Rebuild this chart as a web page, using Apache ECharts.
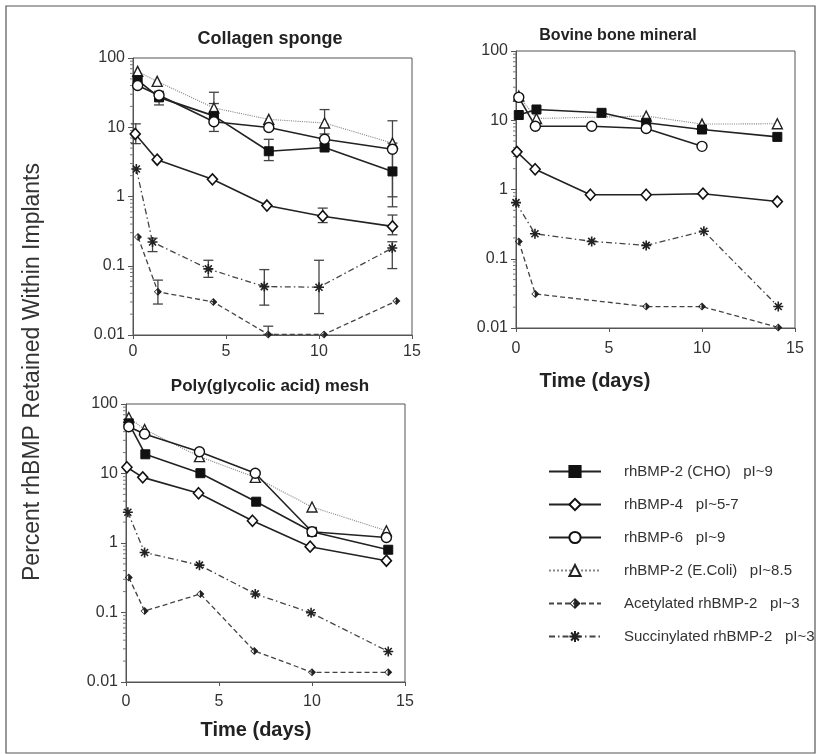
<!DOCTYPE html>
<html>
<head>
<meta charset="utf-8">
<title>rhBMP retention</title>
<script src="https://cdn.jsdelivr.net/npm/echarts@6/dist/echarts.min.js"></script>
<style>
  html, body { margin: 0; padding: 0; background: #fff; }
  #chart { width: 821px; height: 754px; }
</style>
</head>
<body>
<div id="chart"></div>
<script>
// series names (legend)
var names = [
  "rhBMP-2 (CHO)   pI~9",
  "rhBMP-4   pI~5-7",
  "rhBMP-6   pI~9",
  "rhBMP-2 (E.Coli)   pI~8.5",
  "Acetylated rhBMP-2   pI~3",
  "Succinylated rhBMP-2   pI~3"
];
var panelTitles = ["Collagen sponge", "Bovine bone mineral", "Poly(glycolic acid) mesh"];
var yTicks = [0.01, 0.1, 1, 10, 100];
var xTicks = [0, 5, 10, 15];

// Collagen sponge
var csChoX = [0.25, 1.4, 4.35, 7.3, 10.3, 13.95];
var csChoY = [48, 27, 14.6, 4.5, 5.1, 2.3];
var csBmp4X = [0.12, 1.3, 4.27, 7.2, 10.2, 13.95];
var csBmp4Y = [8.0, 3.4, 1.77, 0.74, 0.52, 0.37];
var csBmp6X = [0.25, 1.4, 4.35, 7.3, 10.3, 13.95];
var csBmp6Y = [40, 29, 12, 9.9, 6.7, 4.8];
var csEcoliX = [0.25, 1.3, 4.35, 7.3, 10.3, 13.95];
var csEcoliY = [64, 46, 19, 13, 11.5, 5.9];
var csAcetX = [0.27, 1.34, 4.32, 7.27, 10.27, 14.16];
var csAcetY = [0.26, 0.042, 0.030, 0.0102, 0.0102, 0.031];
var csSuccX = [0.18, 1.05, 4.05, 7.06, 10.0, 13.94];
var csSuccY = [2.5, 0.22, 0.09, 0.05, 0.049, 0.18];
// error bars: day, low, high
var csErrX = [0.15, 1.4, 4.35, 4.35, 7.3, 10.3, 10.2, 13.95, 13.95, 13.95, 1.05, 4.05, 7.06, 10.0, 13.94, 1.34, 7.27];
var csErrLo = [5.8, 21, 14, 8.7, 3.3, 8, 0.42, 0.99, 0.71, 0.28, 0.16, 0.068, 0.027, 0.0204, 0.091, 0.028, 0.0102];
var csErrHi = [11.2, 33, 32, 22, 6.7, 18, 0.68, 12.4, 5.9, 0.54, 0.25, 0.12, 0.088, 0.12, 0.222, 0.062, 0.0134];

// Bovine bone mineral
var bbChoX = [0.15, 1.1, 4.6, 7.0, 10.0, 14.05];
var bbChoY = [11.9, 14.3, 12.8, 9.2, 7.35, 5.75];
var bbBmp4X = [0.05, 1.03, 4.0, 7.0, 10.05, 14.05];
var bbBmp4Y = [3.5, 1.96, 0.84, 0.84, 0.87, 0.67];
var bbBmp6X = [0.15, 1.04, 4.07, 7.0, 10.0];
var bbBmp6Y = [21.4, 8.2, 8.2, 7.6, 4.2];
var bbEcoliX = [0.15, 1.1, 7.0, 10.0, 14.05];
var bbEcoliY = [22.3, 10.6, 11.5, 8.8, 8.9];
var bbAcetX = [0.15, 1.04, 7.0, 10.0, 14.1];
var bbAcetY = [0.178, 0.031, 0.0204, 0.0204, 0.0102];
var bbSuccX = [0.0, 1.02, 4.07, 7.0, 10.1, 14.1];
var bbSuccY = [0.646, 0.23, 0.178, 0.156, 0.25, 0.0204];

// Poly(glycolic acid) mesh
var pgChoX = [0.15, 1.04, 4.0, 7.0, 10.0, 14.1];
var pgChoY = [52.7, 18.9, 10.1, 3.93, 1.45, 0.8];
var pgBmp4X = [0.05, 0.9, 3.9, 6.8, 9.9, 14.0];
var pgBmp4Y = [12.3, 8.8, 5.2, 2.09, 0.885, 0.556];
var pgBmp6X = [0.15, 1.0, 3.95, 6.95, 10.0, 14.0];
var pgBmp6Y = [47, 37, 20.6, 10.1, 1.45, 1.2];
var pgEcoliX = [0.15, 1.0, 3.95, 6.95, 10.0, 14.0];
var pgEcoliY = [64, 43, 17.5, 8.8, 3.3, 1.5];
var pgAcetX = [0.15, 1.0, 4.0, 6.9, 10.0, 14.1];
var pgAcetY = [0.32, 0.105, 0.185, 0.028, 0.0138, 0.0138];
var pgSuccX = [0.1, 1.0, 3.95, 6.95, 9.95, 14.1];
var pgSuccY = [2.77, 0.73, 0.48, 0.185, 0.099, 0.0275];

// minor ticks of the log axes
var minorVals = [0.02, 0.03, 0.04, 0.05, 0.06, 0.07, 0.08, 0.09,
  0.2, 0.3, 0.4, 0.5, 0.6, 0.7, 0.8, 0.9,
  2, 3, 4, 5, 6, 7, 8, 9,
  20, 30, 40, 50, 60, 70, 80, 90];

function zip(xs, ys) {
  return xs.map(function (x, i) { return [x, ys[i]]; });
}

var halfDiamond = "path://M10 0L20 10L10 20ZM10 0L10 20L0 10ZM8.5 4L2.5 10L8.5 16Z";
var asterisk = "path://M0 10L20 10M10 0L10 20M3 3L17 17M17 3L3 17";

// style per series (same order as names)
var styles = [
  { symbol: "rect", size: 9, item: { color: "#111", borderColor: "#111", borderWidth: 1 }, line: { color: "#222", width: 1.6, type: "solid" } },
  { symbol: "diamond", size: [10, 11], item: { color: "#fff", borderColor: "#111", borderWidth: 1.6 }, line: { color: "#222", width: 1.6, type: "solid" } },
  { symbol: "circle", size: 10, item: { color: "#fff", borderColor: "#111", borderWidth: 1.4 }, line: { color: "#222", width: 1.6, type: "solid" } },
  { symbol: "triangle", size: 10, item: { color: "#fff", borderColor: "#222", borderWidth: 1.4 }, line: { color: "#888", width: 1.1, type: "dotted" } },
  { symbol: halfDiamond, size: 8, item: { color: "#222", borderWidth: 0 }, line: { color: "#444", width: 1.3, type: [5, 3] } },
  { symbol: asterisk, size: 10, item: { color: "rgba(0,0,0,0)", borderColor: "#222", borderWidth: 1.6 }, line: { color: "#444", width: 1.3, type: [6, 3, 1.5, 3] } }
];

var panels = [
  [zip(csChoX, csChoY), zip(csBmp4X, csBmp4Y), zip(csBmp6X, csBmp6Y), zip(csEcoliX, csEcoliY), zip(csAcetX, csAcetY), zip(csSuccX, csSuccY)],
  [zip(bbChoX, bbChoY), zip(bbBmp4X, bbBmp4Y), zip(bbBmp6X, bbBmp6Y), zip(bbEcoliX, bbEcoliY), zip(bbAcetX, bbAcetY), zip(bbSuccX, bbSuccY)],
  [zip(pgChoX, pgChoY), zip(pgBmp4X, pgBmp4Y), zip(pgBmp6X, pgBmp6Y), zip(pgEcoliX, pgEcoliY), zip(pgAcetX, pgAcetY), zip(pgSuccX, pgSuccY)]
];

var grids = [
  { left: 133, top: 58, width: 279, height: 277 },
  { left: 516, top: 51, width: 279, height: 277 },
  { left: 126, top: 404, width: 279, height: 278 }
];
var xLabelMargin = [9, 13, 12];

var fontFamily = "Arial, 'Liberation Sans', sans-serif";
var labelFont = { fontFamily: fontFamily, fontSize: 16, color: "#333" };

var xAxes = [], yAxes = [], series = [];
grids.forEach(function (g, gi) {
  xAxes.push({
    type: "value", gridIndex: gi, min: 0, max: 15, interval: 5,
    axisLine: { show: true, lineStyle: { color: "#555", width: 1 } },
    axisTick: { show: true, length: 4, lineStyle: { color: "#555" } },
    axisLabel: Object.assign({ margin: xLabelMargin[gi] }, labelFont),
    splitLine: { show: false }
  });
  yAxes.push({
    type: "log", logBase: 10, gridIndex: gi, min: yTicks[0], max: yTicks[yTicks.length - 1],
    axisLine: { show: true, lineStyle: { color: "#555", width: 1 } },
    axisTick: { show: true, length: 5, lineStyle: { color: "#555" } },
    axisLabel: Object.assign({ margin: 8, formatter: function (v) { return String(v); } }, labelFont),
    splitLine: { show: false }
  });
  // minor ticks
  series.push({
    type: "custom", xAxisIndex: gi, yAxisIndex: gi, silent: true, clip: false, z: 1,
    data: minorVals.map(function (v) { return [0, v]; }),
    renderItem: function (params, api) {
      var p = api.coord([api.value(0), api.value(1)]);
      return { type: "line", shape: { x1: p[0] - 3, y1: p[1], x2: p[0], y2: p[1] }, style: { stroke: "#777", lineWidth: 1 } };
    }
  });
  panels[gi].forEach(function (d, si) {
    var st = styles[si];
    series.push({
      name: names[si], type: "line", xAxisIndex: gi, yAxisIndex: gi,
      data: d, symbol: st.symbol, symbolSize: st.size, showSymbol: true,
      itemStyle: st.item, lineStyle: st.line, z: 3 + (si === 3 ? 0 : 1),
      silent: true
    });
  });
});

// error bars on the collagen sponge panel
series.push({
  type: "custom", xAxisIndex: 0, yAxisIndex: 0, silent: true, z: 2,
  data: csErrX.map(function (x, i) { return [x, csErrLo[i], csErrHi[i]]; }),
  renderItem: function (params, api) {
    var lo = api.coord([api.value(0), api.value(1)]);
    var hi = api.coord([api.value(0), api.value(2)]);
    var s = { stroke: "#444", lineWidth: 1.3 };
    return {
      type: "group",
      children: [
        { type: "line", shape: { x1: hi[0], y1: hi[1], x2: lo[0], y2: lo[1] }, style: s },
        { type: "line", shape: { x1: hi[0] - 5, y1: hi[1], x2: hi[0] + 5, y2: hi[1] }, style: s },
        { type: "line", shape: { x1: lo[0] - 5, y1: lo[1], x2: lo[0] + 5, y2: lo[1] }, style: s }
      ]
    };
  }
});

function label(text, x, y, font) {
  return { type: "text", x: x, y: y, silent: true, style: { text: text, font: font, fill: "#222", align: "center", verticalAlign: "middle" } };
}

var chart = echarts.init(document.getElementById("chart"));
chart.setOption({
  animation: false,
  backgroundColor: "#fff",
  grid: grids.map(function (g) {
    return Object.assign({ show: true, borderColor: "#555", borderWidth: 1, backgroundColor: "transparent", containLabel: false }, g);
  }),
  xAxis: xAxes,
  yAxis: yAxes,
  legend: {
    data: names, orient: "vertical", left: 543, top: 459,
    itemWidth: 52, itemHeight: 14, itemGap: 18,
    textStyle: { fontFamily: fontFamily, fontSize: 15, color: "#333", padding: [0, 0, 0, 18] },
    selectedMode: false
  },
  graphic: [
    { type: "rect", shape: { x: 6, y: 6, width: 809, height: 747 }, style: { fill: "none", stroke: "#555", lineWidth: 1.2 }, silent: true },
    label(panelTitles[0], 270, 39, "bold 18px " + fontFamily),
    label(panelTitles[1], 618, 36, "bold 16px " + fontFamily),
    label(panelTitles[2], 270, 386, "bold 17px " + fontFamily),
    label("Time (days)", 595, 381, "bold 20px " + fontFamily),
    label("Time (days)", 256, 730, "bold 20px " + fontFamily),
    { type: "text", x: 33, y: 372, rotation: Math.PI / 2, silent: true, style: { text: "Percent rhBMP Retained Within Implants", font: "23px " + fontFamily, fill: "#333", align: "center", verticalAlign: "middle" } }
  ],
  series: series
});
</script>
</body>
</html>
